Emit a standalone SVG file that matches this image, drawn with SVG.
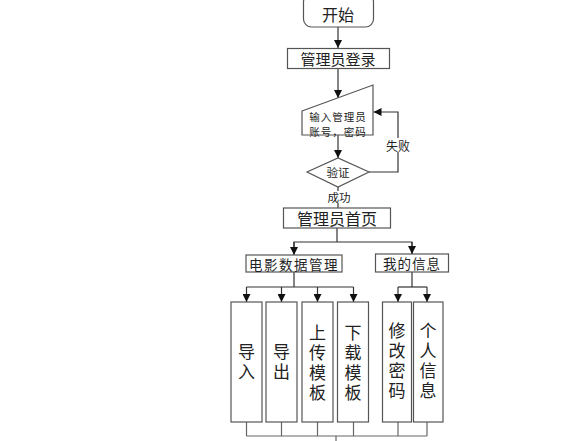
<svg xmlns="http://www.w3.org/2000/svg" width="582" height="441" viewBox="0 0 582 441">
<style>
.box{fill:#fff;stroke:#555;stroke-width:1.2}
.ln{fill:none;stroke:#333;stroke-width:1.2}
text{font-family:"Noto Sans CJK SC","Noto Sans",sans-serif;fill:#222;text-anchor:middle;dominant-baseline:central}
.v{font-size:17px;writing-mode:vertical-rl;letter-spacing:3px}
</style>
<defs>
<marker id="ah" viewBox="0 0 10 10" refX="10" refY="5" markerWidth="8" markerHeight="8" markerUnits="userSpaceOnUse" orient="auto">
<path d="M0,0 L10,5 L0,10 z" fill="#111"/>
</marker>
</defs>
<rect width="582" height="441" fill="#fff"/>
<g id="connectors">
<line class="ln" x1="338" y1="27" x2="338" y2="48" marker-end="url(#ah)"/>
<line class="ln" x1="338" y1="68.5" x2="338" y2="98" marker-end="url(#ah)"/>
<line class="ln" x1="338" y1="135" x2="338" y2="158" marker-end="url(#ah)"/>
<polyline class="ln" points="369,172 398,172 398,112 373.5,112" marker-end="url(#ah)"/>
<line class="ln" x1="338" y1="187" x2="338" y2="208"/>
<polyline class="ln" points="337,228 337,242"/>
<polyline class="ln" points="294,254 294,242 412,242 412,254"/>
<line class="ln" x1="294" y1="242" x2="294" y2="255" marker-end="url(#ah)"/>
<line class="ln" x1="412" y1="242" x2="412" y2="254" marker-end="url(#ah)"/>
<line class="ln" x1="294" y1="272" x2="294" y2="287"/>
<line class="ln" x1="246.5" y1="287" x2="353.5" y2="287"/>
<line class="ln" x1="246.5" y1="287" x2="246.5" y2="302" marker-end="url(#ah)"/>
<line class="ln" x1="281.5" y1="287" x2="281.5" y2="302" marker-end="url(#ah)"/>
<line class="ln" x1="317.5" y1="287" x2="317.5" y2="302" marker-end="url(#ah)"/>
<line class="ln" x1="353.5" y1="287" x2="353.5" y2="302" marker-end="url(#ah)"/>
<line class="ln" x1="412" y1="272" x2="412" y2="287"/>
<line class="ln" x1="398" y1="287" x2="427" y2="287"/>
<line class="ln" x1="398" y1="287" x2="398" y2="302" marker-end="url(#ah)"/>
<line class="ln" x1="427" y1="287" x2="427" y2="302" marker-end="url(#ah)"/>
<g stroke="#666" stroke-width="1.2" fill="none">
<line x1="246.5" y1="422" x2="246.5" y2="436"/>
<line x1="281.5" y1="422" x2="281.5" y2="436"/>
<line x1="317.5" y1="422" x2="317.5" y2="436"/>
<line x1="353.5" y1="422" x2="353.5" y2="436"/>
<line x1="398" y1="422" x2="398" y2="436"/>
<line x1="427" y1="422" x2="427" y2="436"/>
<line x1="246.5" y1="436" x2="427" y2="436"/>
<line x1="336" y1="436" x2="336" y2="442"/>
</g>
<rect x="387" y="138" width="22" height="14" fill="#fff"/>
<text x="398" y="145" font-size="12">失败</text>
<rect x="327" y="191" width="24" height="12" fill="#fff"/>
<text x="339" y="197" font-size="11.5">成功</text>
</g>
<g id="start">
<rect class="box" x="303.5" y="-6" width="70" height="33" rx="8"/>
<text x="338" y="13.5" font-size="16">开始</text>
</g>
<g id="login">
<rect class="box" x="287.5" y="48.5" width="102" height="20"/>
<text x="338" y="58.5" font-size="15">管理员登录</text>
</g>
<g id="input">
<polygon class="box" points="302,111 373,85 373,135 302,135"/>
<text x="338" y="116.5" font-size="10.5" letter-spacing="1">输入管理员</text>
<text x="338" y="131.8" font-size="10.5" letter-spacing="1">账号，密码</text>
</g>
<g id="verify">
<polygon class="box" points="307,172 338,158 369,172 338,187"/>
<text x="338" y="172" font-size="11.5">验证</text>
</g>
<g id="home">
<rect class="box" x="283.5" y="208" width="107" height="20"/>
<text x="337" y="218" font-size="16">管理员首页</text>
</g>
<g id="moviedata">
<rect class="box" x="246" y="255" width="96" height="17"/>
<text x="294" y="263.5" font-size="13.5" letter-spacing="1.5">电影数据管理</text>
</g>
<g id="myinfo">
<rect class="box" x="375.5" y="254" width="73" height="18"/>
<text x="412" y="263" font-size="13.5" letter-spacing="1">我的信息</text>
</g>
<g id="import">
<rect class="box" x="231" y="302" width="31" height="120"/>
<text class="v" x="246.5" y="363.5">导入</text>
</g>
<g id="export">
<rect class="box" x="266" y="302" width="31" height="120"/>
<text class="v" x="281.5" y="363.5">导出</text>
</g>
<g id="upload">
<rect class="box" x="302" y="302" width="31" height="120"/>
<text class="v" x="317.5" y="364.5">上传模板</text>
</g>
<g id="download">
<rect class="box" x="337.5" y="302" width="31" height="120"/>
<text class="v" x="353" y="364.5">下载模板</text>
</g>
<g id="changepwd">
<rect class="box" x="382.5" y="302" width="29" height="120"/>
<text class="v" x="397" y="362.5">修改密码</text>
</g>
<g id="personal">
<rect class="box" x="413.5" y="302" width="29.5" height="120"/>
<text class="v" x="428" y="362.5">个人信息</text>
</g>
</svg>
